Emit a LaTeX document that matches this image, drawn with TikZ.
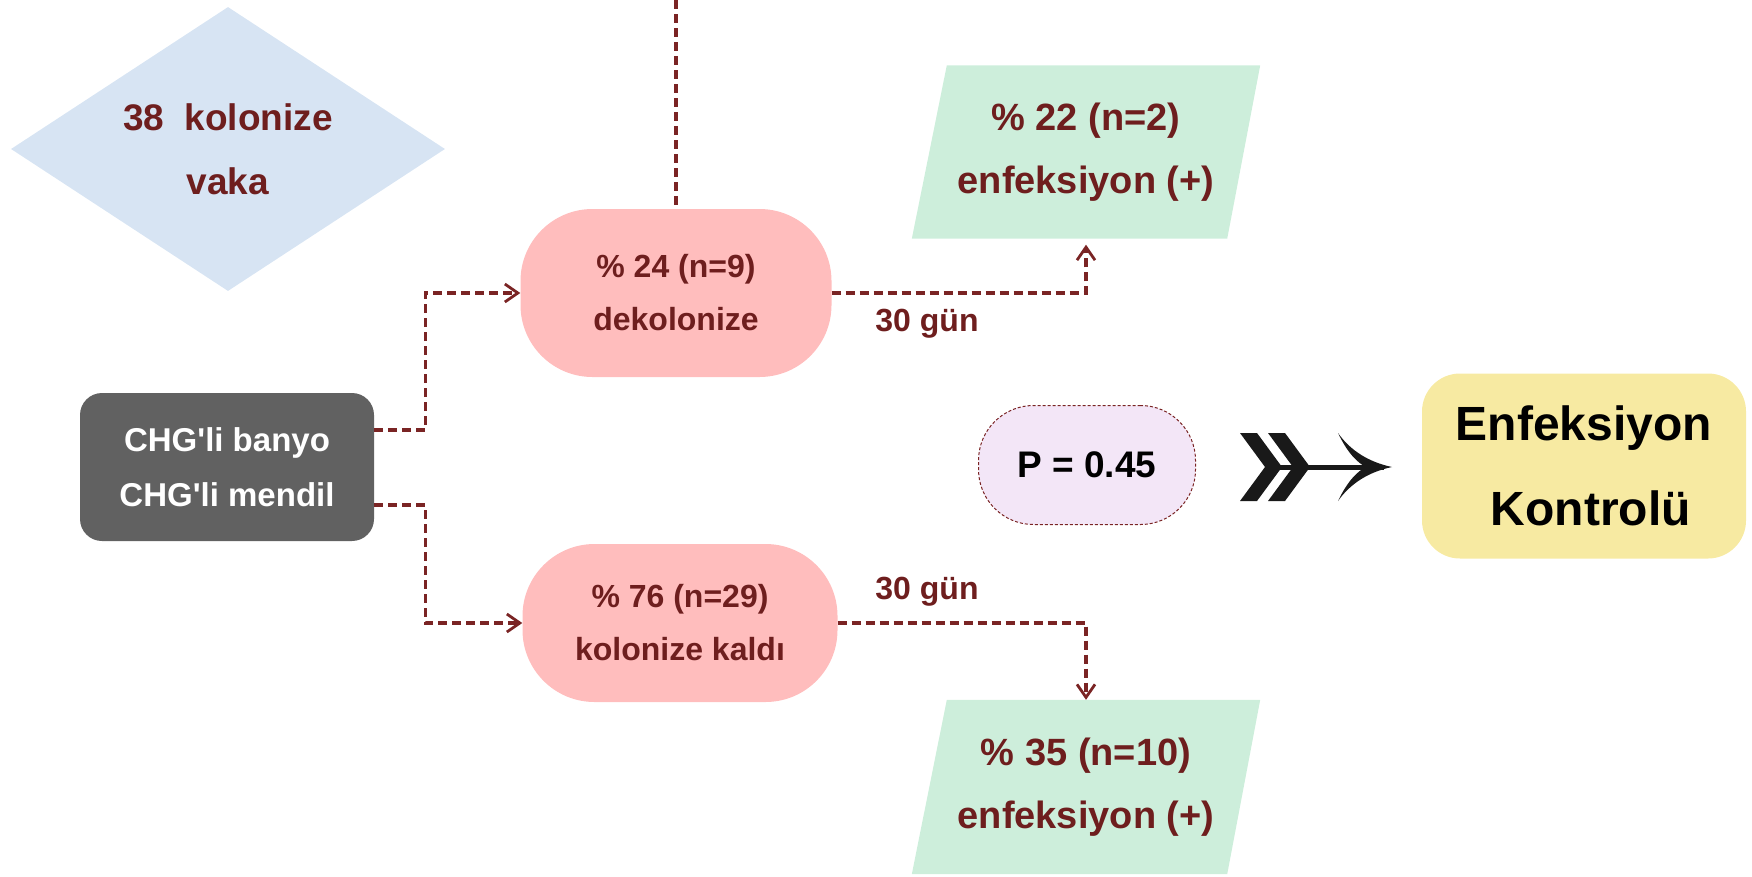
\documentclass[tikz,border=0pt]{standalone}
\usepackage{fontspec}
\setmainfont{Liberation Sans}
\usetikzlibrary{shapes.geometric,arrows.meta,calc,backgrounds}
\definecolor{maroon}{RGB}{110,30,30}
\definecolor{connc}{RGB}{122,36,36}
\definecolor{pinkfill}{RGB}{255,189,189}
\definecolor{greenfill}{RGB}{205,238,219}
\definecolor{bluefill}{RGB}{215,228,243}
\definecolor{greyfill}{RGB}{97,97,97}
\definecolor{lavfill}{RGB}{243,230,247}
\definecolor{yelfill}{RGB}{247,234,162}
\begin{document}
\begin{tikzpicture}[x=1pt,y=-1pt,
  flowline/.style={draw=connc, line width=3.3pt, dash pattern=on 9pt off 5pt,
    -{Straight Barb[length=13pt,width=18pt,line width=2.8pt]}},
  pillbox/.style={rectangle, rounded corners=72pt, fill=pinkfill, inner sep=0pt,
    text=maroon, font=\fontsize{32}{53}\selectfont\bfseries, align=center},
  parabox/.style={rectangle, inner sep=0pt, minimum width=348pt,
    text=maroon, font=\fontsize{38}{63}\selectfont\bfseries, align=center},
  lab/.style={text=maroon, font=\fontsize{32}{38}\selectfont\bfseries, inner sep=0pt}]
\useasboundingbox (0,0) rectangle (1752,876);

% diamond
\node[diamond, aspect=1.5, fill=bluefill, minimum width=434pt, minimum height=284pt, inner sep=0pt,
  text=maroon, font=\fontsize{37}{64}\selectfont\bfseries, align=center]
  (dia) at (228,149) {38\ \ kolonize\\vaka};

% treatment box
\node[rectangle, rounded corners=22pt, fill=greyfill, minimum width=294pt, minimum height=148pt,
  inner sep=0pt, text=white, font=\fontsize{33}{55}\selectfont\bfseries, align=center]
  (chg) at (227,467) {CHG\textquotesingle li banyo\\CHG\textquotesingle li mendil};

% pills
\node[pillbox, minimum width=311pt, minimum height=168pt] (pill1) at (676,293)
  {\% 24 (n=9)\\dekolonize};
\node[pillbox, minimum width=315pt, minimum height=158pt] (pill2) at (680,623)
  {\% 76 (n=29)\\kolonize kald\i};

% parallelograms
\node[parabox, minimum height=173pt] (p1) at (1086,152) {\% 22 (n=2)\\enfeksiyon (+)};
\node[parabox, minimum height=174pt] (p2) at (1086,787) {\% 35 (n=10)\\enfeksiyon (+)};
\begin{scope}[on background layer]
  \fill[greenfill] ($(p1.north west)+(35,0)$) -- (p1.north east) -- ($(p1.south east)+(-33,0)$) -- (p1.south west) -- cycle;
  \fill[greenfill] ($(p2.north west)+(35,0)$) -- (p2.north east) -- ($(p2.south east)+(-33,0)$) -- (p2.south west) -- cycle;
\end{scope}

% P value
\node[rectangle, rounded corners=55pt, fill=lavfill, draw=connc, line width=1pt,
  dash pattern=on 3pt off 2pt, minimum width=217pt, minimum height=119pt, inner sep=0pt,
  font=\fontsize{37}{40}\selectfont\bfseries] (pval) at (1087,465) {P = 0.45};

% infection control
\node[rectangle, rounded corners=38pt, fill=yelfill, minimum width=324pt, minimum height=185pt,
  inner sep=0pt, font=\fontsize{48}{85}\selectfont\bfseries, align=center]
  (ctrl) at (1584,466) {Enfeksiyon\\\ Kontrolü};

% labels
\node[lab] (g1) at (927,324) {30 gün};
\node[lab] (g2) at (927,592) {30 gün};

% connectors
\coordinate (topend) at (676,0);
\draw[flowline, -] (topend) -- (pill1.north);
\draw[flowline] ($(chg.east)+(0,-37)$) -- ++(51,0) |- (pill1.west);
\draw[flowline] ($(chg.east)+(0,38)$) -- ++(51,0) |- (pill2.west);
\draw[flowline, shorten >=6pt] (pill1.east) -| (p1.south);
\draw[flowline] (pill2.east) -| (p2.north);

% fishbone arrow
\fill[black!90] (1240,433) -- (1257,433) -- (1282,467) -- (1257,501) -- (1240,501) -- (1265,467) -- cycle;
\fill[black!90] (1268,433) -- (1285,433) -- (1310,467) -- (1285,501) -- (1268,501) -- (1293,467) -- cycle;
\draw[black!90, line width=5pt] (1275,467) -- (1384,467);
\fill[black!90] (1392,467) .. controls (1368,462) and (1350,450) .. (1338,433)
  .. controls (1348,454) and (1358,463) .. (1366,467)
  .. controls (1358,471) and (1348,480) .. (1338,501)
  .. controls (1350,484) and (1368,472) .. (1392,467) -- cycle;
\end{tikzpicture}
\end{document}
